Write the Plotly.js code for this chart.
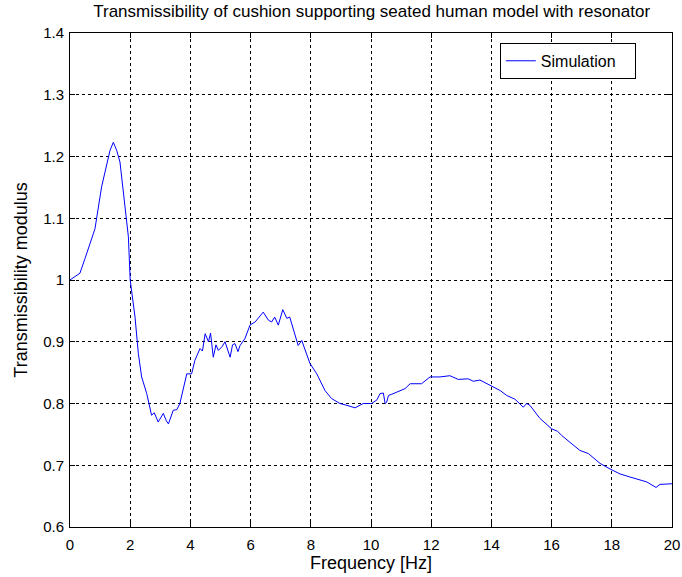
<!DOCTYPE html>
<html>
<head>
<meta charset="utf-8">
<script src="https://cdn.plot.ly/plotly-3.0.1.min.js"></script>
<style>html,body{margin:0;padding:0;background:#fff;}#chart{width:682px;height:577px;}</style>
</head>
<body>
<div id="chart"></div>
<script>
const freq = [0,0.33,0.5,0.83,1.05,1.2,1.33,1.44,1.55,1.66,1.83,1.94,2.0,2.16,2.27,2.38,2.55,2.71,2.8,2.93,3.1,3.2,3.27,3.43,3.55,3.65,3.88,4.04,4.15,4.32,4.4,4.49,4.6,4.67,4.76,4.85,4.93,5.05,5.15,5.25,5.32,5.4,5.48,5.58,5.65,5.81,5.98,6.15,6.3,6.42,6.59,6.7,6.8,6.92,7.07,7.2,7.3,7.42,7.58,7.7,7.97,8.2,8.47,8.69,8.97,9.2,9.47,9.74,10.02,10.2,10.3,10.41,10.47,10.52,10.58,10.69,10.96,11.13,11.3,11.68,11.96,12.29,12.62,12.9,13.23,13.4,13.62,13.95,14.29,14.51,14.78,15.06,15.17,15.28,15.61,16.0,16.2,16.34,16.5,16.67,16.94,17.22,17.61,17.94,18.27,18.6,18.88,19.16,19.47,19.6,20];
const transmissibility = [1.0,1.011,1.035,1.083,1.151,1.185,1.21,1.223,1.21,1.191,1.118,1.07,1.0,0.94,0.881,0.843,0.816,0.781,0.785,0.77,0.784,0.772,0.767,0.789,0.79,0.8,0.848,0.848,0.87,0.889,0.885,0.913,0.9,0.914,0.875,0.895,0.886,0.892,0.9,0.885,0.875,0.895,0.897,0.884,0.894,0.905,0.927,0.932,0.94,0.948,0.935,0.932,0.94,0.927,0.952,0.938,0.94,0.919,0.894,0.902,0.865,0.848,0.821,0.808,0.8,0.797,0.793,0.8,0.8,0.806,0.816,0.817,0.8,0.802,0.813,0.815,0.821,0.824,0.832,0.832,0.843,0.843,0.845,0.839,0.84,0.836,0.838,0.83,0.821,0.813,0.807,0.794,0.8,0.797,0.776,0.759,0.755,0.748,0.742,0.735,0.724,0.719,0.703,0.694,0.686,0.681,0.677,0.673,0.664,0.669,0.67];
const xTicks = [0,2,4,6,8,10,12,14,16,18,20];
const yTicks = [0.6,0.7,0.8,0.9,1,1.1,1.2,1.3,1.4];
const yTickText = ['0.6','0.7','0.8','0.9','1','1.1','1.2','1.3','1.4'];

const fam = 'Liberation Sans, Arial, sans-serif';
const axisCommon = {
  showline: true, linecolor: '#000', linewidth: 1, mirror: 'ticks',
  ticks: 'inside', ticklen: 5, tickcolor: '#000',
  showgrid: true, gridcolor: '#000', gridwidth: 1, griddash: '3px,3px',
  zeroline: false, tickfont: {family: fam, size: 15, color: '#000'}
};
const layout = {
  width: 682, height: 577,
  margin: {l: 70, r: 10, t: 33, b: 50},
  paper_bgcolor: '#fff', plot_bgcolor: '#fff',
  font: {family: fam, size: 15, color: '#000'},
  title: {text: 'Transmissibility of cushion supporting seated human model with resonator', x: 0.545, xanchor: 'center', yref: 'container', y: 0.992, yanchor: 'top', font: {family: fam, size: 17, color: '#000'}},
  xaxis: Object.assign({}, axisCommon, {range: [0, 20], tickvals: xTicks, ticklabelstandoff: 4, title: {text: 'Frequency [Hz]', standoff: 3, font: {family: fam, size: 18, color: '#000'}}}),
  yaxis: Object.assign({}, axisCommon, {range: [0.6, 1.4], tickvals: yTicks, ticktext: yTickText, ticklabelstandoff: 2, title: {text: 'Transmissibility modulus', standoff: 10, font: {family: fam, size: 18, color: '#000'}}}),
  showlegend: true,
  legend: {x: 0.714, y: 0.98, xanchor: 'left', yanchor: 'top', bgcolor: '#fff', bordercolor: '#000', borderwidth: 1, font: {family: fam, size: 16, color: '#000'}}
};
Plotly.newPlot('chart', [{
  x: freq, y: transmissibility, type: 'scatter', mode: 'lines', name: 'Simulation\u00a0\u00a0\u00a0',
  line: {color: '#0000ff', width: 1}
}], layout, {displayModeBar: false, staticPlot: true});
</script>
</body>
</html>
